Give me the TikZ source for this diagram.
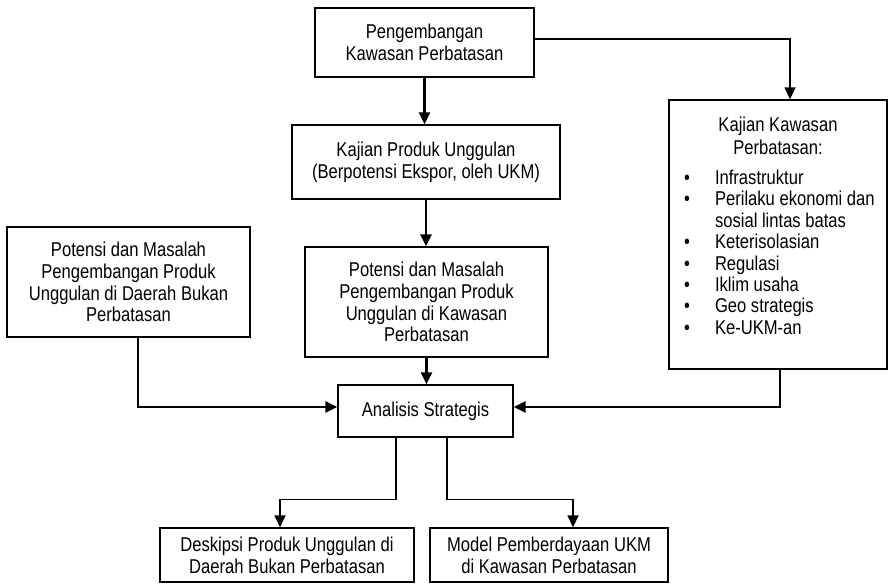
\documentclass[tikz,border=0pt]{standalone}
\usepackage{fontspec}
\setmainfont{Liberation Sans}[FakeStretch=0.83]
\usetikzlibrary{arrows.meta}
\newcommand{\itm}{\hspace*{15pt}\makebox[31pt][l]{\textbullet}}

\begin{document}
\begin{tikzpicture}[x=1pt,y=-1pt,
  box/.style={draw,line width=1.3pt,align=center,inner sep=0pt,font=\fontsize{20}{21.7}\selectfont},
  link/.style={line width=1.4pt,-{Triangle[length=12pt,width=11pt]}},
  flow/.style={line width=2.6pt,-{Triangle[length=12pt,width=11pt]}}]
\useasboundingbox (0,0) rectangle (888,586);
\node[box,minimum width=219pt,minimum height=69pt] (pkp) at (424.5,42.5) {Pengembangan\\Kawasan Perbatasan};
\node[box,minimum width=268pt,minimum height=74pt] (kpu) at (426,162) {Kajian Produk Unggulan\\(Berpotensi Ekspor, oleh UKM)};
\node[box,minimum width=243pt,minimum height=110pt] (pdb) at (128.5,282) {Potensi dan Masalah\\Pengembangan Produk\\Unggulan di Daerah Bukan\\Perbatasan};
\node[box,minimum width=243pt,minimum height=110pt] (pkw) at (426.5,302) {Potensi dan Masalah\\Pengembangan Produk\\Unggulan di Kawasan\\Perbatasan};
\node[box] (kkp) at (778,234.5) {\parbox[c][269pt][t]{218pt}{\vspace*{17pt}\centering
  Kajian Kawasan\\[1pt]Perbatasan:\par\vspace{9pt}\raggedright
  \fontsize{20}{21.4}\selectfont
  \itm Infrastruktur\\
  \itm Perilaku ekonomi dan\\
  \hspace*{46pt}sosial lintas batas\\
  \itm Keterisolasian\\
  \itm Regulasi\\
  \itm Iklim usaha\\
  \itm Geo strategis\\
  \itm Ke-UKM-an}};
\node[box,minimum width=175pt,minimum height=52pt] (ans) at (425.5,411) {Analisis Strategis};
\node[box,minimum width=254pt,minimum height=54pt] (dpu) at (287,555) {Deskipsi Produk Unggulan di\\Daerah Bukan Perbatasan};
\node[box,minimum width=238pt,minimum height=54pt] (mpu) at (549,555) {Model Pemberdayaan UKM\\di Kawasan Perbatasan};
% alur utama
\draw[flow] (pkp.south) -- (pkp.south |- kpu.north);
\draw[flow] (kpu.south) -- (kpu.south |- pkw.north);
\draw[flow] (pkw.south) -- (pkw.south |- ans.north);
\draw[link] ([yshift=3.5pt]pkp.east) -| ([xshift=12pt]kkp.north);
\draw[flow] ([xshift=9.5pt]pdb.south) |- ([yshift=4pt]ans.west);
\draw[flow] ([xshift=2pt]kkp.south) |- ([yshift=4pt]ans.east);
% keluaran
\draw[link] ([xshift=-29.5pt]ans.south) -- ++(0,62) -| ([xshift=-7pt]dpu.north);
\draw[link] ([xshift=21.5pt]ans.south) -- ++(0,62) -| ([xshift=24pt]mpu.north);
\end{tikzpicture}
\end{document}
